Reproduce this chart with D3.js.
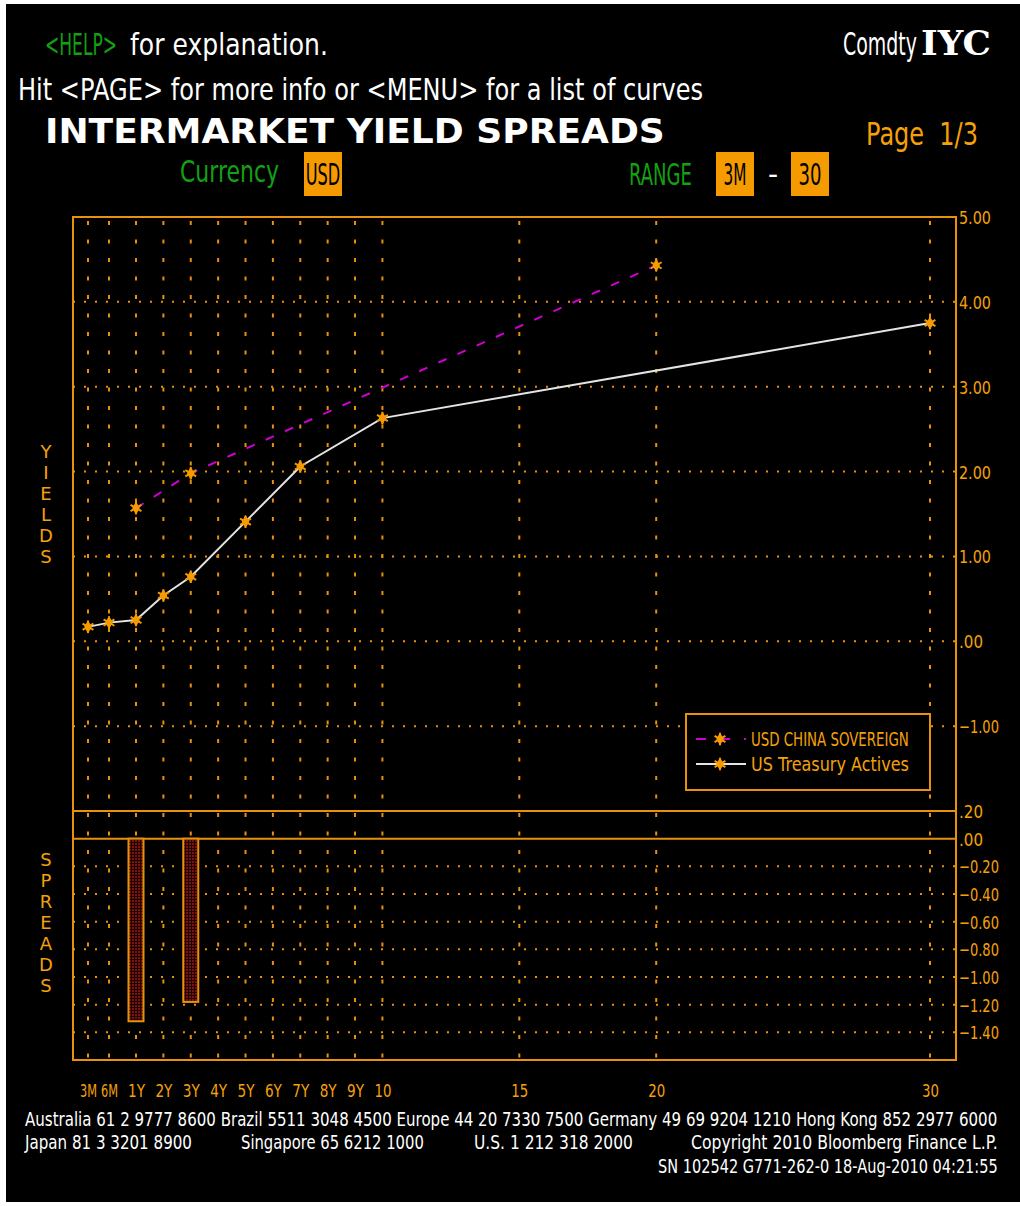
<!DOCTYPE html>
<html>
<head>
<meta charset="utf-8">
<script src="https://cdn.jsdelivr.net/npm/d3@7"></script>
<style>
  body { margin: 0; background: #fff; }
  text { white-space: pre; }
</style>
</head>
<body>
<div id="chart"></div>
<script>
// tenor axis
var tenorYears = [0.25, 0.5, 1, 2, 3, 4, 5, 6, 7, 8, 9, 10, 15, 20, 30];
var tenorLabels = ["3M", "6M", "1Y", "2Y", "3Y", "4Y", "5Y", "6Y", "7Y", "8Y", "9Y", "10", "15", "20", "30"];

// US Treasury Actives
var ustYears = [0.25, 0.5, 1, 2, 3, 5, 7, 10, 30];
var ustYields = [0.17, 0.22, 0.25, 0.54, 0.76, 1.41, 2.06, 2.63, 3.75];

// USD China Sovereign
var chinaYears = [1, 3, 20];
var chinaYields = [1.57, 1.98, 4.43];

// spreads (china vs treasury)
var spreadYears = [1, 3];
var spreadValues = [-1.32, -1.18];

var yieldTicks = [5, 4, 3, 2, 1, 0, -1];
var spreadTicks = [0.2, 0, -0.2, -0.4, -0.6, -0.8, -1, -1.2, -1.4];

var seriesNames = ["USD CHINA SOVEREIGN", "US Treasury Actives"];

var ORANGE = "#E8910C", OTXT = "#F5A00A", BOX = "#F59B00",
    GREEN = "#14A014", MAGENTA = "#D000D0", WHITE = "#E4E4E4";
var FONT = "'DejaVu Sans', sans-serif";

var W = 1020, H = 1206;
var plot = {left: 73, right: 956, top: 217, mid: 811, zero: 838, bottom: 1060};

var svg = d3.select("#chart")
  .append("svg")
    .attr("width", W)
    .attr("height", H);

svg.append("rect")
    .attr("x", 6).attr("y", 4)
    .attr("width", W - 6).attr("height", 1198)
    .attr("fill", "#000");

// scales
var x = d3.scaleLinear()
    .domain([0.25, 0.5, 1, 30])
    .range([88, 109, 136, 930]);

var y = d3.scaleLinear()
    .domain([-2, 5])
    .range([plot.mid, plot.top]);

var ys = d3.scaleLinear()
    .domain([-1.6, 0.2])
    .range([plot.bottom, plot.mid]);

// squeeze a text horizontally to a given width (bloomberg font is narrow)
function squeeze(t, len, x0, y0) {
  var w = t.node().getComputedTextLength();
  if (!len || !w) return;
  var sx = len / w;
  t.attr("transform", "translate(" + x0 + "," + y0 + ") scale(" + sx + ",1) translate(" + (-x0) + "," + (-y0) + ")");
}

function txt(px, py, s, col, size, len, opts) {
  opts = opts || {};
  var t = svg.append("text")
      .attr("x", px).attr("y", py)
      .attr("fill", col)
      .attr("font-family", opts.family || FONT)
      .attr("font-size", size)
      .attr("font-weight", opts.bold ? "bold" : "normal")
      .attr("text-anchor", opts.anchor || "start")
      .text(s);
  squeeze(t, len, px, py);
  return t;
}

// header
txt(45, 55, "<HELP>", GREEN, 31, 72);
txt(130, 55, "for explanation.", "#fff", 31, 198);
txt(18, 100, "Hit <PAGE> for more info or <MENU> for a list of curves", "#fff", 31, 685);
txt(45, 143, "INTERMARKET YIELD SPREADS", "#fff", 34, 620, {bold: true});
txt(843, 55, "Comdty", "#fff", 32, 74);
txt(921, 55, "IYC", "#fff", 34, 70, {bold: true, family: "'DejaVu Serif', serif"});
txt(866, 145, "Page  1/3", OTXT, 32, 112);

txt(180, 182, "Currency", GREEN, 31, 99);
txt(629, 185, "RANGE", GREEN, 31, 63);
txt(773, 184, "-", "#fff", 28, null, {anchor: "middle"});

var boxes = [{x0: 304, x1: 342, s: "USD"}, {x0: 716, x1: 754, s: "3M"}, {x0: 791, x1: 829, s: "30"}];
boxes.forEach(function(b) {
  svg.append("rect")
      .attr("x", b.x0).attr("y", 152)
      .attr("width", b.x1 - b.x0).attr("height", 44)
      .attr("fill", BOX);
  txt((b.x0 + b.x1) / 2, 185, b.s, "#000", 31, b.s.length * 11.5, {anchor: "middle"});
});

// gridlines
var grid = svg.append("g");

grid.selectAll(".vgrid")
    .data(tenorYears)
  .enter().append("line")
    .attr("class", "vgrid")
    .attr("x1", function(d) { return x(d); })
    .attr("x2", function(d) { return x(d); })
    .attr("y1", plot.top + 4)
    .attr("y2", plot.bottom)
    .attr("stroke", ORANGE)
    .attr("stroke-width", 2)
    .attr("stroke-dasharray", "4,14.5");

grid.selectAll(".hgrid")
    .data(yieldTicks.filter(function(d) { return d < 5; }))
  .enter().append("line")
    .attr("class", "hgrid")
    .attr("x1", plot.left)
    .attr("x2", plot.right)
    .attr("y1", function(d) { return y(d); })
    .attr("y2", function(d) { return y(d); })
    .attr("stroke", ORANGE)
    .attr("stroke-width", 2)
    .attr("stroke-dasharray", "2,9");

grid.selectAll(".sgrid")
    .data(spreadTicks.filter(function(d) { return d < 0; }))
  .enter().append("line")
    .attr("class", "sgrid")
    .attr("x1", plot.left)
    .attr("x2", plot.right)
    .attr("y1", function(d) { return ys(d); })
    .attr("y2", function(d) { return ys(d); })
    .attr("stroke", ORANGE)
    .attr("stroke-width", 2)
    .attr("stroke-dasharray", "2,9");

// frame
svg.append("rect")
    .attr("x", plot.left).attr("y", plot.top)
    .attr("width", plot.right - plot.left)
    .attr("height", plot.bottom - plot.top)
    .attr("fill", "none")
    .attr("stroke", ORANGE)
    .attr("stroke-width", 2);

[plot.mid, ys(0)].forEach(function(v) {
  svg.append("line")
      .attr("x1", plot.left).attr("x2", plot.right)
      .attr("y1", v).attr("y2", v)
      .attr("stroke", ORANGE)
      .attr("stroke-width", 2);
});

// spread bars
var pat = svg.append("defs").append("pattern")
    .attr("id", "hatch")
    .attr("width", 3).attr("height", 3)
    .attr("patternUnits", "userSpaceOnUse");
pat.append("rect").attr("width", 3).attr("height", 3).attr("fill", "#1e0202");
pat.append("rect").attr("width", 2).attr("height", 2).attr("fill", "#7a1212");

var spreads = spreadYears.map(function(d, i) { return {t: d, v: spreadValues[i]}; });

svg.selectAll(".bar")
    .data(spreads)
  .enter().append("rect")
    .attr("class", "bar")
    .attr("x", function(d) { return x(d.t) - 7.5; })
    .attr("width", 15)
    .attr("y", ys(0))
    .attr("height", function(d) { return ys(d.v) - ys(0); })
    .attr("fill", "url(#hatch)")
    .attr("stroke", ORANGE)
    .attr("stroke-width", 2);

// lines
var line = d3.line()
    .x(function(d) { return x(d.t); })
    .y(function(d) { return y(d.v); });

var ust = ustYears.map(function(d, i) { return {t: d, v: ustYields[i]}; });
var china = chinaYears.map(function(d, i) { return {t: d, v: chinaYields[i]}; });

svg.append("path")
    .datum(china)
    .attr("d", line)
    .attr("fill", "none")
    .attr("stroke", MAGENTA)
    .attr("stroke-width", 2)
    .attr("stroke-dasharray", "9,12");

svg.append("path")
    .datum(ust)
    .attr("d", line)
    .attr("fill", "none")
    .attr("stroke", WHITE)
    .attr("stroke-width", 2);

var star = d3.symbol().type(d3.symbolAsterisk).size(110);
var blob = d3.symbol().type(d3.symbolDiamond).size(50);

function drawMarker(g) {
  g.append("path").attr("d", star).attr("stroke", "#F59B00").attr("stroke-width", 2).attr("fill", "none");
  g.append("path").attr("d", blob).attr("fill", "#F59B00");
}

function markers(data) {
  svg.append("g").selectAll("g")
      .data(data)
    .enter().append("g")
      .attr("transform", function(d) { return "translate(" + x(d.t) + "," + y(d.v) + ")"; })
      .each(function() { drawMarker(d3.select(this)); });
}
markers(china);
markers(ust);

// axes
function fmt(d) {
  return d3.format(".2f")(d).replace(/^(-?)0\./, "$1.");
}

function squeezeTicks(a, perChar) {
  a.selectAll("text").each(function() {
    var t = d3.select(this);
    var x0 = +t.attr("x") || 0, y0 = +t.attr("y") || 0;
    squeeze(t, this.textContent.length * perChar, x0, y0);
  });
}

var yAxis = svg.append("g")
    .attr("transform", "translate(" + plot.right + ",0)")
    .call(d3.axisRight(y).tickValues(yieldTicks).tickSize(0).tickPadding(3).tickFormat(fmt));

var sAxis = svg.append("g")
    .attr("transform", "translate(" + plot.right + ",0)")
    .call(d3.axisRight(ys).tickValues(spreadTicks).tickSize(0).tickPadding(3).tickFormat(fmt));

[yAxis, sAxis].forEach(function(a) {
  a.select(".domain").remove();
  a.selectAll("text")
      .attr("fill", OTXT)
      .attr("font-family", FONT)
      .attr("font-size", 18)
      .attr("dy", "0.36em");
  squeezeTicks(a, 8);
});

var xAxis = svg.append("g")
    .attr("transform", "translate(0," + plot.bottom + ")")
    .call(d3.axisBottom(x).tickValues(tenorYears).tickSize(0)
      .tickFormat(function(d, i) { return tenorLabels[i]; }));

xAxis.select(".domain").remove();
xAxis.selectAll("text")
    .attr("y", 37)
    .attr("dy", 0)
    .attr("fill", OTXT)
    .attr("font-family", FONT)
    .attr("font-size", 18);
squeezeTicks(xAxis, 8.5);

// vertical panel titles
function vertical(word, y0) {
  word.split("").forEach(function(c, i) {
    txt(46, y0 + i * 21, c, OTXT, 18, null, {anchor: "middle"});
  });
}
vertical("YIELDS", 458);
vertical("SPREADS", 866);

// legend
var lg = svg.append("g");
lg.append("rect")
    .attr("x", 686).attr("y", 714)
    .attr("width", 244).attr("height", 76)
    .attr("fill", "#000")
    .attr("stroke", ORANGE)
    .attr("stroke-width", 2);

var legendRows = [
  {name: seriesNames[0], col: MAGENTA, dash: "10,14"},
  {name: seriesNames[1], col: WHITE, dash: null}
];
legendRows.forEach(function(r, i) {
  var ly = 739 + i * 25;
  lg.append("line")
      .attr("x1", 696).attr("x2", 746)
      .attr("y1", ly).attr("y2", ly)
      .attr("stroke", r.col)
      .attr("stroke-width", 2)
      .attr("stroke-dasharray", r.dash);
  drawMarker(lg.append("g").attr("transform", "translate(720," + ly + ")"));
  txt(751, ly + 7, r.name, OTXT, 19, 158);
});

// footer
txt(25, 1126, "Australia 61 2 9777 8600 Brazil 5511 3048 4500 Europe 44 20 7330 7500 Germany 49 69 9204 1210 Hong Kong 852 2977 6000", "#fff", 19, 973);
txt(25, 1149, "Japan 81 3 3201 8900", "#fff", 19, 167);
txt(241, 1149, "Singapore 65 6212 1000", "#fff", 19, 183);
txt(474, 1149, "U.S. 1 212 318 2000", "#fff", 19, 159);
txt(691, 1149, "Copyright 2010 Bloomberg Finance L.P.", "#fff", 19, 307);
txt(658, 1173, "SN 102542 G771-262-0 18-Aug-2010 04:21:55", "#fff", 19, 340);
</script>
</body>
</html>
